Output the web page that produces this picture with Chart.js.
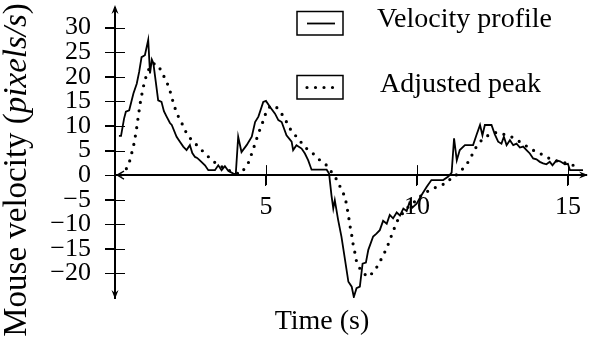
<!DOCTYPE html>
<html>
<head>
<meta charset="utf-8">
<title>Mouse velocity</title>
<script src="https://cdn.jsdelivr.net/npm/chart.js@4.4.0/dist/chart.umd.min.js"></script>
<style>
html, body { margin: 0; padding: 0; background: #fff; }
#wrap { width: 589px; height: 341px; }
</style>
</head>
<body>
<div id="wrap"><canvas id="chart_velocity"></canvas></div>
<script>
// recorded velocity profile (time in s, velocity in pixels/s)
const rawTime = [0.13, 0.20, 0.30, 0.36, 0.47, 0.61, 0.72, 0.80, 0.88, 0.99, 1.10, 1.16, 1.22, 1.27, 1.35, 1.43, 1.54, 1.62, 1.71, 1.82,
  1.88, 2.04, 2.15, 2.26, 2.37, 2.48, 2.56, 2.65, 2.72, 2.81, 2.98, 3.09, 3.31, 3.42, 3.53, 3.64, 3.75, 3.92, 4.00, 4.08,
  4.19, 4.36, 4.53, 4.64, 4.75, 4.91, 5.00, 5.13, 5.30, 5.41, 5.52, 5.68, 5.85, 5.90, 6.01, 6.18, 6.29, 6.40, 6.51, 7.01,
  7.09, 7.17, 7.23, 7.28, 7.39, 7.50, 7.62, 7.73, 7.84, 7.91, 8.00, 8.11, 8.20, 8.31, 8.39, 8.55, 8.66, 8.77, 8.88, 9.00,
  9.10, 9.21, 9.33, 9.44, 9.55, 9.66, 9.75, 9.85, 9.99, 10.15, 10.32, 10.48, 10.87, 11.04, 11.15, 11.23, 11.32, 11.42, 11.59, 11.86,
  11.97, 12.09, 12.17, 12.25, 12.47, 12.58, 12.69, 12.80, 12.88, 12.97, 13.08, 13.19, 13.30, 13.41, 13.52, 13.63, 13.74, 13.85, 13.96, 14.07,
  14.18, 14.29, 14.40, 14.49, 14.62, 14.74, 14.90, 15.00, 15.07, 15.50];
const rawVel = [8.0, 8.0, 11.5, 12.9, 13.2, 16.6, 18.6, 21.0, 24.0, 24.4, 27.5, 20.7, 23.5, 22.8, 19.0, 15.2, 14.9, 13.0, 11.9, 10.6,
  10.2, 7.8, 6.8, 5.8, 5.1, 6.1, 4.5, 3.7, 3.5, 3.0, 2.0, 1.0, 1.0, 2.0, 1.0, 1.8, 0.9, 0.3, 0.2, 7.8,
  4.7, 6.1, 7.8, 10.8, 11.9, 14.9, 15.1, 13.9, 12.5, 11.2, 10.8, 8.1, 6.8, 5.1, 6.1, 5.4, 4.4, 3.0, 1.1, 1.1,
  0.3, -4.1, -6.8, -5.1, -9.1, -12.5, -17.3, -21.7, -22.7, -24.8, -23.0, -22.7, -18.0, -17.8, -15.2, -12.5, -11.9, -11.2, -9.3, -9.9,
  -8.1, -8.8, -7.6, -8.2, -6.8, -7.3, -5.6, -6.6, -5.8, -4.1, -2.4, -1.0, -1.0, -0.3, 0.5, 7.5, 3.0, 5.1, 6.1, 6.1,
  8.1, 10.2, 8.1, 10.2, 10.2, 8.3, 6.8, 6.4, 7.8, 6.1, 7.1, 6.1, 6.4, 5.6, 5.8, 5.1, 4.4, 3.4, 3.2, 2.7,
  2.4, 2.2, 2.7, 2.0, 3.0, 2.8, 2.2, 2.3, 1.0, 1.0];

// adjusted peak curve
const adjTime = [0.20, 0.33, 0.47, 0.61, 0.70, 0.77, 0.85, 0.94, 1.03, 1.13, 1.27, 1.43, 1.54, 1.69, 1.80, 1.91, 1.99, 2.10, 2.26, 2.37,
  2.54, 2.71, 2.87, 3.03, 3.25, 3.48, 3.75, 3.97, 4.14, 4.25, 4.41, 4.53, 4.64, 4.75, 4.86, 4.95, 5.02, 5.13, 5.24, 5.35,
  5.46, 5.63, 5.74, 5.90, 6.07, 6.23, 6.40, 6.62, 6.79, 7.01, 7.15, 7.28, 7.39, 7.50, 7.62, 7.67, 7.73, 7.78, 7.84, 7.89,
  7.95, 8.00, 8.11, 8.22, 8.41, 8.55, 8.72, 8.88, 9.00, 9.10, 9.21, 9.33, 9.49, 9.60, 9.80, 9.99, 10.15, 10.32, 10.54, 10.82,
  11.04, 11.15, 11.30, 11.42, 11.59, 11.70, 11.86, 11.97, 12.14, 12.36, 12.64, 12.88, 13.13, 13.35, 13.58, 13.80, 14.05, 14.29, 14.51, 14.79,
  15.07, 15.28];
const adjVel = [0.0, 0.7, 2.5, 5.8, 8.8, 11.9, 15.2, 18.0, 20.1, 21.7, 22.7, 22.4, 21.0, 19.3, 17.6, 15.2, 13.6, 11.9, 10.0, 8.5,
  7.1, 6.1, 5.1, 4.1, 2.8, 1.9, 1.0, 0.5, 0.2, 1.0, 2.4, 4.4, 6.4, 8.5, 10.2, 11.8, 13.1, 13.9, 14.2, 13.8,
  13.0, 11.5, 10.0, 8.5, 7.5, 6.1, 5.1, 4.1, 3.0, 2.0, 0.8, -0.3, -1.4, -3.0, -4.4, -6.1, -8.1, -10.2, -12.2, -14.2,
  -15.9, -17.6, -19.0, -20.0, -20.7, -19.7, -18.3, -16.3, -14.9, -13.2, -11.5, -9.5, -8.1, -7.1, -6.0, -5.1, -4.1, -3.4, -2.7, -2.0,
  -1.4, -0.3, 0.0, 0.7, 1.7, 2.7, 4.5, 5.8, 7.1, 8.1, 8.7, 8.3, 7.8, 7.0, 6.1, 5.2, 4.5, 3.7, 3.0, 2.7,
  2.2, 1.8];

const xTicks = [5, 10, 15];
const yTicks = [-20, -15, -10, -5, 0, 5, 10, 15, 20, 25, 30];

const X_MIN = 0, X_MAX = 15.6;
const Y_MIN = -25, Y_MAX = 34;

const serif = "'Liberation Serif', 'Times New Roman', serif";

function pts(xs, ys) {
  return xs.map((x, i) => ({ x: x, y: ys[i] }));
}

function fmt(v) {
  return v < 0 ? '\u2212' + Math.abs(v) : String(v);
}

function arrowHead(ctx, tx, ty, dx, dy) {
  const nx = -dy, ny = dx;
  ctx.beginPath();
  ctx.moveTo(tx, ty);
  ctx.lineTo(tx - dx * 9 + nx * 3.5, ty - dy * 9 + ny * 3.5);
  ctx.lineTo(tx - dx * 6, ty - dy * 6);
  ctx.lineTo(tx - dx * 9 - nx * 3.5, ty - dy * 9 - ny * 3.5);
  ctx.closePath();
  ctx.fill();
}

// axis arrows, crossing tick marks, titles and the boxed legend
const decor = {
  id: 'decor',
  afterDraw(chart) {
    const ctx = chart.ctx;
    const xs = chart.scales.x, ys = chart.scales.y;
    const x0 = xs.getPixelForValue(0), y0 = ys.getPixelForValue(0);
    ctx.save();
    ctx.strokeStyle = '#000';
    ctx.fillStyle = '#000';

    ctx.lineWidth = 1;
    ctx.beginPath();
    yTicks.forEach(v => {
      const y = Math.round(ys.getPixelForValue(v)) + 0.5;
      ctx.moveTo(x0 - 10, y); ctx.lineTo(x0 + 10, y);
    });
    xTicks.forEach(v => {
      const x = Math.round(xs.getPixelForValue(v)) + 0.5;
      ctx.moveTo(x, y0 - 10); ctx.lineTo(x, y0 + 10);
    });
    ctx.stroke();

    arrowHead(ctx, x0, ys.top - 3, 0, -1);
    arrowHead(ctx, x0, ys.bottom + 1, 0, 1);
    arrowHead(ctx, xs.right + 2, y0, 1, 0);
    ctx.lineWidth = 1.2;
    ctx.beginPath();
    ctx.moveTo(x0 + 9, y0 - 4); ctx.lineTo(x0 + 2, y0); ctx.lineTo(x0 + 9, y0 + 4);
    ctx.stroke();

    // x title
    ctx.font = '28px ' + serif;
    ctx.textAlign = 'center';
    ctx.textBaseline = 'middle';
    ctx.fillText('Time (s)', 322, 322);

    // y title, unit set in italics
    const parts = [
      ['Mouse velocity (', ''],
      ['pixels/s', 'italic '],
      [')', '']
    ];
    const size = 33;
    let total = 0;
    parts.forEach(p => { ctx.font = p[1] + size + 'px ' + serif; total += ctx.measureText(p[0]).width; });
    ctx.translate(17, 170);
    ctx.rotate(-Math.PI / 2);
    ctx.textAlign = 'left';
    let cx = -total / 2;
    parts.forEach(p => {
      ctx.font = p[1] + size + 'px ' + serif;
      ctx.fillText(p[0], cx, 0);
      cx += ctx.measureText(p[0]).width;
    });
    ctx.setTransform(1, 0, 0, 1, 0, 0);

    // legend
    const rows = [
      { top: 11.5, textX: 377, base: 27 },
      { top: 75.5, textX: 380, base: 92 }
    ];
    chart.data.datasets.forEach((ds, i) => {
      const r = rows[i];
      ctx.lineWidth = 1.5;
      ctx.setLineDash([]);
      ctx.strokeRect(297, r.top, 46, 23.5);
      ctx.beginPath();
      ctx.lineWidth = ds.borderWidth;
      ctx.lineCap = ds.borderCapStyle || 'butt';
      ctx.setLineDash(ds.borderDash || []);
      ctx.moveTo(307, r.top + 12);
      ctx.lineTo(335, r.top + 12);
      ctx.stroke();
      ctx.setLineDash([]);
      ctx.lineCap = 'butt';
      ctx.font = '28px ' + serif;
      ctx.textAlign = 'left';
      ctx.textBaseline = 'alphabetic';
      ctx.fillText(ds.label, r.textX, r.base);
    });
    ctx.restore();
  }
};

new Chart(document.getElementById('chart_velocity'), {
  type: 'line',
  data: {
    datasets: [{
      label: 'Velocity profile',
      data: pts(rawTime, rawVel),
      borderColor: '#000',
      borderWidth: 1.8,
      pointRadius: 0,
      tension: 0,
      fill: false
    }, {
      label: 'Adjusted peak',
      data: pts(adjTime, adjVel),
      borderColor: '#000',
      borderWidth: 3.2,
      borderDash: [0, 8.5],
      borderCapStyle: 'round',
      pointRadius: 0,
      tension: 0,
      fill: false
    }]
  },
  options: {
    responsive: true,
    maintainAspectRatio: false,
    animation: false,
    layout: { padding: { left: 0, right: 3, top: 8, bottom: 43 } },
    plugins: { legend: { display: false }, tooltip: { enabled: false } },
    scales: {
      x: {
        type: 'linear',
        position: { y: 0 },
        min: X_MIN,
        max: X_MAX,
        afterBuildTicks: s => { s.ticks = xTicks.map(v => ({ value: v })); },
        afterFit: s => { s.paddingLeft = 0; s.paddingRight = 0; },
        ticks: { padding: 6, color: '#000', autoSkip: false, maxRotation: 0, font: { family: serif, size: 26 }, callback: v => fmt(v) },
        grid: { drawOnChartArea: false, tickLength: 10, color: '#000', lineWidth: 1 },
        border: { display: true, color: '#000', width: 2 }
      },
      y: {
        type: 'linear',
        position: 'left',
        min: Y_MIN,
        max: Y_MAX,
        afterBuildTicks: s => { s.ticks = yTicks.map(v => ({ value: v })); },
        afterFit: s => { s.width = 115; s.paddingTop = 0; s.paddingBottom = 0; },
        ticks: { padding: 14, color: '#000', autoSkip: false, font: { family: serif, size: 26 }, callback: v => fmt(v) },
        grid: { drawOnChartArea: false, tickLength: 10, color: '#000', lineWidth: 1 },
        border: { display: true, color: '#000', width: 2 }
      }
    }
  },
  plugins: [decor]
});
</script>
</body>
</html>
